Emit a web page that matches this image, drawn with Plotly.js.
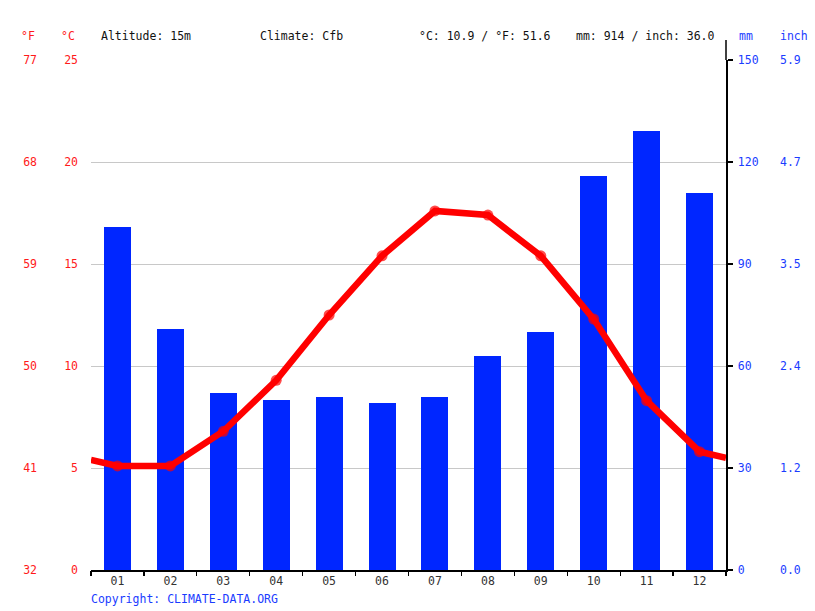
<!DOCTYPE html>
<html>
<head>
<meta charset="utf-8">
<script src="https://cdn.plot.ly/plotly-3.0.1.min.js"></script>
<style>
  body { margin: 0; background: #fff; }
  #chart { width: 815px; height: 611px; }
</style>
</head>
<body>
<div id="chart"></div>
<script>
// monthly data
const months = ['01', '02', '03', '04', '05', '06', '07', '08', '09', '10', '11', '12'];
const precipMm = [101, 71, 52, 50, 51, 49, 51, 63, 70, 116, 129, 111];
const tempC = [5.1, 5.1, 6.8, 9.3, 12.5, 15.4, 17.6, 17.4, 15.4, 12.3, 8.3, 5.8];
// line runs on to the plot edges (value at start / end of year)
const edgeTemp = [5.4, 5.5];

const tempTicks = [0, 5, 10, 15, 20, 25];
const mmTicks = [0, 30, 60, 90, 120, 150];

const headerLeft = 'Altitude: 15m';
const headerClimate = 'Climate: Cfb';
const headerTemp = '°C: 10.9 / °F: 51.6';
const headerPrecip = 'mm: 914 / inch: 36.0';
const copyright = 'Copyright: CLIMATE-DATA.ORG';

// pixel helpers (paper spans x 38..775, y 570..60)
const L = 38, R = 40, T = 60, B = 41, W = 815, H = 611;
const pw = W - L - R, ph = H - T - B;
const px = p => (p - L) / pw;
const py = p => (H - B - p) / ph;

const FONT = 'DejaVu Sans Mono, monospace';
const RED = '#ff1a1a';
const BLUE = '#1a3cff';

const xs = months.map((m, i) => i + 1);
const lineX = [0.5].concat(xs, [12.5]);
const lineY = [edgeTemp[0]].concat(tempC, [edgeTemp[1]]);
const markerSizes = lineX.map((v, i) => (i === 0 || i === lineX.length - 1) ? 0 : 11);

const bars = {
  type: 'bar',
  x: xs,
  y: precipMm,
  width: 0.51,
  marker: { color: '#0026ff', line: { width: 0 } },
  xaxis: 'x',
  yaxis: 'y',
  hoverinfo: 'skip'
};

const line = {
  type: 'scatter',
  mode: 'lines+markers',
  x: lineX,
  y: lineY,
  line: { color: '#ff0000', width: 6.5 },
  marker: { color: '#ff0000', size: markerSizes, line: { width: 0 } },
  xaxis: 'x',
  yaxis: 'y2',
  cliponaxis: true,
  hoverinfo: 'skip'
};

// empty traces so the extra axes exist
const ghostF = { type: 'scatter', x: [1], y: [40], yaxis: 'y3', mode: 'none', showlegend: false, hoverinfo: 'skip' };
const ghostIn = { type: 'scatter', x: [1], y: [1], yaxis: 'y4', mode: 'none', showlegend: false, hoverinfo: 'skip' };
const ghostX = { type: 'scatter', x: [1], y: [1], xaxis: 'x2', yaxis: 'y', mode: 'none', showlegend: false, hoverinfo: 'skip' };

const dom = [px(91), px(726)];
const boundaries = [0].concat(xs).map(v => v + 0.5);

const layout = {
  width: W,
  height: H,
  margin: { l: L, r: R, t: T, b: B, pad: 0 },
  paper_bgcolor: '#fff',
  plot_bgcolor: '#fff',
  showlegend: false,
  bargap: 0,
  font: { family: FONT, size: 11.5, color: '#333' },
  xaxis: {
    domain: dom,
    range: [0.5, 12.5],
    tickvals: xs,
    ticktext: months,
    ticks: '',
    showgrid: false,
    zeroline: false,
    showline: true,
    linecolor: '#000',
    linewidth: 1.5,
    tickfont: { family: FONT, size: 11.5, color: '#333' },
    fixedrange: true
  },
  xaxis2: {
    overlaying: 'x',
    anchor: 'y',
    side: 'bottom',
    range: [0.5, 12.5],
    tickvals: boundaries,
    ticks: 'outside',
    ticklen: 5,
    tickwidth: 1.2,
    tickcolor: '#000',
    showticklabels: false,
    showgrid: false,
    zeroline: false,
    showline: false
  },
  yaxis: {
    side: 'right',
    anchor: 'x',
    range: [0, 150],
    tickvals: mmTicks,
    ticks: 'outside',
    ticklen: 5,
    tickwidth: 1.2,
    tickcolor: '#000',
    showline: true,
    linecolor: '#000',
    linewidth: 1.5,
    showgrid: true,
    gridcolor: '#c8c8c8',
    gridwidth: 1,
    zeroline: false,
    ticklabelstandoff: 3,
    tickfont: { family: FONT, size: 11.5, color: BLUE }
  },
  yaxis2: {
    overlaying: 'y',
    side: 'left',
    anchor: 'x',
    range: [0, 25],
    tickvals: tempTicks,
    ticks: '',
    showgrid: false,
    zeroline: false,
    showline: false,
    ticklabelstandoff: 12,
    tickfont: { family: FONT, size: 11.5, color: RED }
  },
  yaxis3: {
    overlaying: 'y',
    anchor: 'free',
    position: 0,
    side: 'left',
    range: [0, 25],
    tickvals: tempTicks,
    ticktext: tempTicks.map(c => String(Math.round(c * 9 / 5 + 32))),
    ticks: '',
    showgrid: false,
    zeroline: false,
    showline: false,
    ticklabelstandoff: 1,
    tickfont: { family: FONT, size: 11.5, color: RED }
  },
  yaxis4: {
    overlaying: 'y',
    anchor: 'free',
    position: 1,
    side: 'right',
    range: [0, 150],
    tickvals: mmTicks,
    ticktext: mmTicks.map(v => (v / 25.4).toFixed(1)),
    ticks: '',
    showgrid: false,
    zeroline: false,
    showline: false,
    ticklabelstandoff: 4,
    tickfont: { family: FONT, size: 11.5, color: BLUE }
  },
  shapes: [
    // right axis line runs up past the plot top
    { type: 'line', xref: 'paper', yref: 'paper', x0: px(726), x1: px(726), y0: 1, y1: py(40),
      line: { color: '#000', width: 1.5 } }
  ],
  annotations: [
    { text: '°F', x: px(37), xanchor: 'right', font: { color: RED } },
    { text: '°C', x: px(77), xanchor: 'right', font: { color: RED } },
    { text: headerLeft, x: px(99), xanchor: 'left', font: { color: '#111' } },
    { text: headerClimate, x: px(258), xanchor: 'left', font: { color: '#111' } },
    { text: headerTemp, x: px(417), xanchor: 'left', font: { color: '#111' } },
    { text: headerPrecip, x: px(574), xanchor: 'left', font: { color: '#111' } },
    { text: 'mm', x: px(737), xanchor: 'left', font: { color: BLUE } },
    { text: 'inch', x: px(778), xanchor: 'left', font: { color: BLUE } }
  ].map(a => Object.assign({
    xref: 'paper', yref: 'paper', y: py(36), yanchor: 'middle', showarrow: false
  }, a, { font: Object.assign({ family: FONT, size: 11.5 }, a.font) })).concat([
    { text: copyright, xref: 'paper', yref: 'paper', x: px(89), y: py(599), xanchor: 'left', yanchor: 'middle',
      showarrow: false, font: { family: FONT, size: 11.5, color: BLUE } }
  ])
};

Plotly.newPlot('chart', [bars, ghostX, ghostF, ghostIn, line], layout, { displayModeBar: false, staticPlot: true });
</script>
</body>
</html>
